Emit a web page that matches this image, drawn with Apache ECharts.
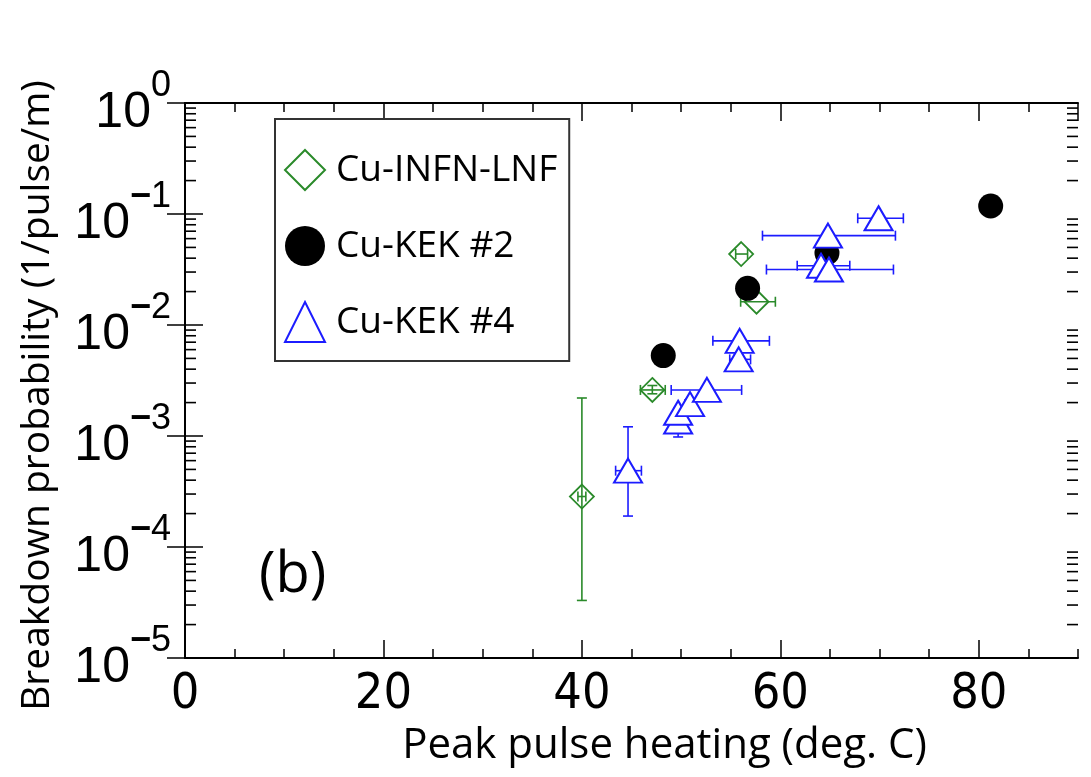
<!DOCTYPE html>
<html>
<head>
<meta charset="utf-8">
<script src="https://cdn.jsdelivr.net/npm/echarts@6/dist/echarts.min.js"></script>
<style>
html, body { margin: 0; padding: 0; background: #ffffff; }
#chart { width: 1091px; height: 777px; }
</style>
</head>
<body>
<div id="chart"></div>
<script>
// Cu-INFN-LNF: peak pulse heating (deg. C), breakdown probability (1/pulse/m) and error ranges
const infnHeat = [40.0, 47.1, 56.05, 57.6];
const infnProb = [2.85e-4, 2.6e-3, 0.0436, 0.0162];
const infnHeatErr = [[39.6, 40.4], [45.9, 48.4], [55.5, 56.7], [56.0, 59.5]];
const infnProbErr = [[3.3e-5, 2.2e-3], [2.4e-3, 2.85e-3], [0.0436, 0.0436], [0.0162, 0.0162]];

// Cu-KEK #2
const kek2Heat = [48.2, 56.7, 64.7, 81.2];
const kek2Prob = [5.3e-3, 0.0214, 0.0445, 0.118];

// Cu-KEK #4
const kek4Heat = [44.65, 49.7, 49.7, 50.9, 52.6, 55.9, 55.8, 64.1, 64.9, 64.8, 69.9];
const kek4Prob = [4.87e-4, 1.35e-3, 1.62e-3, 1.94e-3, 2.6e-3, 7.2e-3, 4.9e-3, 0.0342, 0.0316, 0.0638, 0.0915];
const kek4HeatErr = [[43.4, 46.0], [49.7, 49.7], [49.7, 49.7], [50.4, 51.5], [49.0, 56.1], [53.2, 58.9],
  [54.9, 57.0], [61.7, 67.0], [58.6, 71.4], [58.2, 71.6], [67.8, 72.4]];
const kek4ProbErr = [[1.9e-4, 1.21e-3], [9.8e-4, 1.75e-3], [1.5e-3, 1.78e-3], [1.75e-3, 2.15e-3], [2.4e-3, 2.85e-3],
  [7.2e-3, 7.2e-3], [4.5e-3, 5.3e-3], [0.0342, 0.0342], [0.0316, 0.0316], [0.0638, 0.0638], [0.0915, 0.0915]];

// Axis settings
const heatTicks = [0, 20, 40, 60, 80];
const probDecades = [-5, -4, -3, -2, -1, 0];
const minorMantissas = [2, 3, 4, 5, 6, 7, 8, 9];

const GREEN = '#2a8a2a';
const BLUE = '#1c1cff';
const BLACK = '#000000';
const TEXT_FONT = "'Open Sans', 'Noto Sans', sans-serif";
const DIGIT_FONT = "'Liberation Sans Narrow', 'DejaVu Sans Condensed', 'Open Sans', sans-serif";
const SUP_FONT = "'Liberation Sans', Arial, sans-serif";

function pairs(xs, ys) { return xs.map((x, i) => [x, ys[i]]); }
function errRows(xs, ys, xe, ye) {
  return xs.map((x, i) => [x, ys[i], xe[i][0], xe[i][1], ye[i][0], ye[i][1]]);
}

// log-axis minor ticks at 2..9 x 10^k
const minorTickValues = [];
probDecades.slice(0, -1).forEach(k => minorMantissas.forEach(m => minorTickValues.push(m * Math.pow(10, k))));

function errorBars(color) {
  return function (params, api) {
    const x = api.value(0), y = api.value(1);
    const c = api.coord([x, y]);
    const pl = api.coord([api.value(2), y]);
    const ph = api.coord([api.value(3), y]);
    const pt = api.coord([x, api.value(5)]);
    const pb = api.coord([x, api.value(4)]);
    const style = { stroke: color, lineWidth: 1.6, fill: null };
    const cap = 5;
    const kids = [];
    const seg = (x1, y1, x2, y2) => kids.push({ type: 'line', shape: { x1, y1, x2, y2 }, style });
    if (ph[0] - pl[0] > 1.5) {
      seg(pl[0], c[1], ph[0], c[1]);
      seg(pl[0], c[1] - cap, pl[0], c[1] + cap);
      seg(ph[0], c[1] - cap, ph[0], c[1] + cap);
    }
    if (pb[1] - pt[1] > 1.5) {
      seg(c[0], pt[1], c[0], pb[1]);
      seg(c[0] - cap, pt[1], c[0] + cap, pt[1]);
      seg(c[0] - cap, pb[1], c[0] + cap, pb[1]);
    }
    return { type: 'group', children: kids };
  };
}

// short inward tick on one side of the plot frame
function minorTick(side, len) {
  return function (params, api) {
    const p = api.coord([api.value(0), api.value(1)]);
    const dir = side === 'left' ? 1 : -1;
    return {
      type: 'line',
      shape: { x1: p[0], y1: p[1], x2: p[0] + dir * len, y2: p[1] },
      style: { stroke: BLACK, lineWidth: 1.6 }
    };
  };
}

const axisLine = { show: true, lineStyle: { color: BLACK, width: 2 } };

const chart = echarts.init(document.getElementById('chart'), null, { renderer: 'canvas' });
chart.setOption({
  animation: false,
  backgroundColor: '#ffffff',
  grid: { left: 185, right: 13, top: 103, bottom: 119, containLabel: false },
  title: {
    text: '(b)', left: 254, top: 543,
    textStyle: { fontFamily: TEXT_FONT, fontSize: 56, fontWeight: 'normal', color: BLACK }
  },
  legend: {
    orient: 'vertical', left: 275, top: 119,
    data: ['Cu-INFN-LNF', 'Cu-KEK #2', 'Cu-KEK #4'],
    itemWidth: 40, itemHeight: 40, itemGap: 34,
    padding: [30, 12, 18, 9],
    borderColor: '#333333', borderWidth: 2,
    backgroundColor: '#ffffff',
    textStyle: { fontFamily: TEXT_FONT, fontSize: 37, color: BLACK, lineHeight: 42, padding: [0, 0, 0, 6] }
  },
  xAxis: [
    {
      type: 'value', min: 0, max: 90, interval: 20, position: 'bottom',
      name: 'Peak pulse heating (deg. C)', nameLocation: 'middle', nameGap: 66,
      nameTextStyle: { fontFamily: TEXT_FONT, fontSize: 42, color: BLACK, padding: [0, 0, 0, 66] },
      axisLine,
      axisTick: { show: true, inside: true, length: 18, lineStyle: { color: BLACK, width: 1.5 } },
      axisLabel: {
        fontFamily: DIGIT_FONT, fontSize: 50, color: BLACK, margin: 12, showMaxLabel: false,
        formatter: v => (heatTicks.includes(v) ? String(v) : '')
      },
      splitLine: { show: false }
    },
    {
      type: 'value', min: 0, max: 90, interval: 5, position: 'bottom',
      axisLine: { show: false },
      axisTick: { show: true, inside: true, length: 9, lineStyle: { color: BLACK, width: 1.5 } },
      axisLabel: { show: false }, splitLine: { show: false }
    },
    {
      type: 'value', min: 0, max: 90, interval: 20, position: 'top',
      axisLine,
      axisTick: { show: true, inside: true, length: 18, lineStyle: { color: BLACK, width: 1.5 } },
      axisLabel: { show: false }, splitLine: { show: false }
    },
    {
      type: 'value', min: 0, max: 90, interval: 5, position: 'top',
      axisLine: { show: false },
      axisTick: { show: true, inside: true, length: 9, lineStyle: { color: BLACK, width: 1.5 } },
      axisLabel: { show: false }, splitLine: { show: false }
    }
  ],
  yAxis: [
    {
      type: 'log', logBase: 10, min: 1e-5, max: 1, splitNumber: 5, position: 'left',
      name: 'Breakdown probability (1/pulse/m)', nameLocation: 'middle', nameGap: 128,
      nameTextStyle: { fontFamily: TEXT_FONT, fontSize: 39, color: BLACK, padding: [0, 30, 0, 0] },
      axisLine,
      axisTick: { show: true, inside: true, length: 18, lineStyle: { color: BLACK, width: 1.5 } },
      axisLabel: {
        margin: 14,
        formatter: v => {
          const e = Math.round(Math.log10(v));
          return e === 0 ? '{b|10}{e|0}' : '{b|10}{m|−}{e|' + (-e) + '}';
        },
        rich: {
          b: { fontFamily: SUP_FONT, fontSize: 50, lineHeight: 70, verticalAlign: 'bottom', color: BLACK },
          m: { fontFamily: SUP_FONT, fontSize: 36, fontWeight: 'bold', lineHeight: 36, verticalAlign: 'top', color: BLACK },
          e: { fontFamily: SUP_FONT, fontSize: 36, lineHeight: 36, verticalAlign: 'top', color: BLACK }
        }
      },
      splitLine: { show: false }
    },
    {
      type: 'log', logBase: 10, min: 1e-5, max: 1, splitNumber: 5, position: 'right',
      axisLine,
      axisTick: { show: true, inside: true, length: 18, lineStyle: { color: BLACK, width: 1.5 } },
      axisLabel: { show: false }, splitLine: { show: false }
    }
  ],
  series: [
    {
      type: 'custom', name: 'minor ticks left', silent: true, clip: false,
      renderItem: minorTick('left', 11),
      encode: { x: 0, y: 1 },
      data: minorTickValues.map(v => [0, v]),
      z: 5
    },
    {
      type: 'custom', name: 'minor ticks right', silent: true, clip: false,
      renderItem: minorTick('right', 11),
      encode: { x: 0, y: 1 },
      data: minorTickValues.map(v => [90, v]),
      z: 5
    },
    {
      type: 'scatter', name: 'Cu-INFN-LNF',
      data: pairs(infnHeat, infnProb),
      symbol: 'diamond', symbolSize: 24,
      itemStyle: { color: 'rgba(255,255,255,0)', borderColor: GREEN, borderWidth: 1.8, opacity: 1 },
      z: 2
    },
    {
      type: 'custom', name: 'infn-err', silent: true,
      renderItem: errorBars(GREEN),
      encode: { x: 0, y: 1 },
      data: errRows(infnHeat, infnProb, infnHeatErr, infnProbErr),
      z: 2
    },
    {
      type: 'scatter', name: 'Cu-KEK #2',
      data: pairs(kek2Heat, kek2Prob),
      symbol: 'circle', symbolSize: 25,
      itemStyle: { color: BLACK, opacity: 1 },
      z: 3
    },
    {
      type: 'scatter', name: 'Cu-KEK #4',
      data: pairs(kek4Heat, kek4Prob),
      symbol: 'triangle', symbolSize: [28, 24],
      itemStyle: { color: '#ffffff', borderColor: BLUE, borderWidth: 2, opacity: 1 },
      z: 4
    },
    {
      type: 'custom', name: 'kek4-err', silent: true,
      renderItem: errorBars(BLUE),
      encode: { x: 0, y: 1 },
      data: errRows(kek4Heat, kek4Prob, kek4HeatErr, kek4ProbErr),
      z: 4
    }
  ]
});
</script>
</body>
</html>
